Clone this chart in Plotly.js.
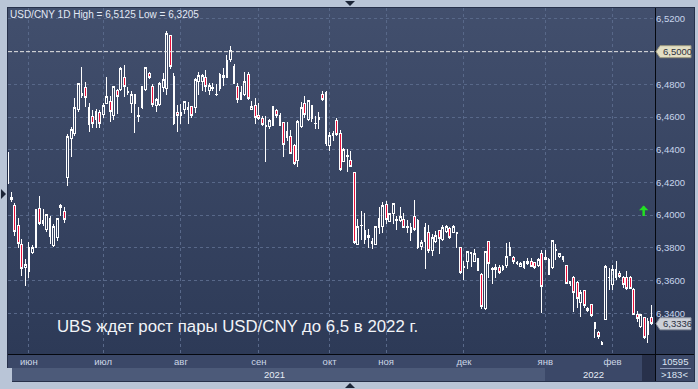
<!DOCTYPE html>
<html><head><meta charset="utf-8">
<script src="https://cdn.plot.ly/plotly-3.0.1.min.js"></script>
<style>
html,body{margin:0;padding:0;background:#b9c5d7;width:698px;height:389px;overflow:hidden;}
#wrap{position:relative;width:698px;height:389px;}
.bx{position:absolute;}
#panel{left:7px;top:7px;width:688px;height:375px;background:#26304a;}
#plotbg{left:8px;top:8px;width:647px;height:346px;background:linear-gradient(#424f6d,#2d3a57);}
#rightbg{left:656px;top:8px;width:38px;height:346px;background:linear-gradient(#424f6d,#2d3a57);}
#vline{left:655px;top:8px;width:1px;height:373px;background:#05080f;}
#hline{left:8px;top:354px;width:686px;height:1px;background:#05080f;}
#monthrow{left:8px;top:355px;width:647px;height:13px;background:#3b4868;}
#yearfill{left:7px;top:368px;width:5px;height:14px;background:#b9c5d7;}
#yearrow{left:12px;top:368px;width:533px;height:13px;background:#4c5a79;}
#yearrow2{left:545px;top:368px;width:97px;height:13px;background:#3b4868;}
#corner{left:642px;top:355px;width:13px;height:26px;background:#28314b;}
#rbox{left:656px;top:355px;width:38px;height:26px;background:#3b4868;}
#rline{left:660px;top:368px;width:31px;height:1px;background:#8c9ab8;}
.tri{position:absolute;width:0;height:0;}
#tTop{left:345px;top:1px;border-left:5px solid transparent;border-right:5px solid transparent;border-top:5px solid #1c2538;}
#tBot{left:345px;top:383px;border-left:5px solid transparent;border-right:5px solid transparent;border-bottom:5px solid #1c2538;}
#tLeft{left:1px;top:189px;border-top:5px solid transparent;border-bottom:5px solid transparent;border-left:5px solid #1c2538;}
#chart{position:absolute;left:0;top:0;width:698px;height:389px;}
#chart .boxlayer path{shape-rendering:crispEdges;}
</style></head>
<body>
<div id="wrap">
<div class="bx" id="panel"></div>
<div class="bx" id="plotbg"></div>
<div class="bx" id="rightbg"></div>
<div class="bx" id="monthrow"></div>
<div class="bx" id="yearfill"></div>
<div class="bx" id="yearrow"></div>
<div class="bx" id="yearrow2"></div>
<div class="bx" id="corner"></div>
<div class="bx" id="rbox"></div>
<div class="bx" id="rline"></div>
<div class="bx" id="vline"></div>
<div class="bx" id="hline"></div>
<div class="tri" id="tTop"></div>
<div class="tri" id="tBot"></div>
<div class="tri" id="tLeft"></div>
<div id="chart"></div>
</div>
<script>
// ---- calendar (onshore CNY trading days) ----
const startDate = '2021-05-24';
const endDate = '2022-02-22';
const holidays = ['2021-06-14','2021-09-20','2021-09-21','2021-10-01','2021-10-04','2021-10-05','2021-10-06','2021-10-07','2022-01-03','2022-01-31','2022-02-01','2022-02-02','2022-02-03','2022-02-04'];
const monthLabels = ['июн','июл','авг','сен','окт','ноя','дек','янв','фев'];
const yearLabels = ['2021','2022'];
const yTicks = [6.34,6.36,6.38,6.40,6.42,6.44,6.46,6.48,6.52];
const levelLine = 6.50;
const headline = 'UBS ждет рост пары USD/CNY до 6,5 в 2022 г.';
const volumeText = '10595';

// ---- OHLC values ----
const open = [6.4384,6.4106,6.4062,6.3939,6.3823,6.3682,6.3656,6.3772,6.3802,6.4041,6.3951,6.3910,6.3982,6.3813,6.3864,6.4049,6.4021,6.4231,6.4472,6.4502,6.4645,6.4731,6.4780,6.4657,6.4604,6.4584,6.4629,6.4616,6.4686,6.4694,6.4608,6.4761,6.4767,6.4841,6.4751,6.4686,6.4737,6.4604,6.4657,6.4767,6.4865,6.4786,6.4669,6.4678,6.4782,6.4776,6.5096,6.4847,6.4631,6.4612,6.4649,6.4649,6.4667,6.4659,6.4816,6.4818,6.4843,6.4761,6.4774,6.4737,6.4776,6.4853,6.4839,6.4955,6.4910,6.4786,6.4710,6.4741,6.4863,6.4649,6.4669,6.4608,6.4592,6.4549,6.4541,6.4551,6.4639,6.4612,6.4567,6.4476,6.4480,6.4429,6.4337,6.4541,6.4686,6.4584,6.4669,6.4563,6.4584,6.4741,6.4752,6.4429,6.4502,6.4578,6.4502,6.4329,6.4358,6.4337,6.4258,6.3821,6.3935,6.3908,6.3876,6.3825,6.3821,6.3977,6.3933,6.4065,6.3963,6.4008,6.3971,6.3965,6.3973,6.3928,6.3922,6.3989,6.3967,6.3806,6.3841,6.3892,6.3784,6.3837,6.3908,6.3851,6.3898,6.3916,6.3892,6.3892,6.3800,6.3682,6.3715,6.3768,6.3719,6.3735,6.3637,6.3430,6.3837,6.3666,6.3669,6.3681,6.3667,6.3693,6.3800,6.3739,6.3702,6.3687,6.3718,6.3702,6.3714,6.3708,6.3693,6.3763,6.3739,6.3732,6.3677,6.3782,6.3745,6.3728,6.3691,6.3585,6.3616,6.3591,6.3468,6.3538,6.3415,6.3452,6.3345,6.3283,6.3209,6.3363,6.3616,6.3575,6.3620,6.3646,6.3616,6.3616,6.3616,6.3544,6.3394,6.3318,6.3374,6.3271,6.3375];
const high = [6.4395,6.4143,6.4072,6.3980,6.3853,6.3731,6.3833,6.3815,6.4040,6.4119,6.4040,6.4010,6.3992,6.3945,6.3982,6.4068,6.4047,6.4496,6.4537,6.4714,6.4808,6.4906,6.4816,6.4686,6.4645,6.4650,6.4645,6.4686,6.4847,6.4731,6.4790,6.4772,6.4908,6.4918,6.4782,6.4761,6.4741,6.4659,6.4792,6.4908,6.4873,6.4802,6.4714,6.4816,6.4869,6.5125,6.5098,6.4871,6.4676,6.4678,6.4698,6.4690,6.4669,6.4839,6.4873,6.4863,6.4888,6.4808,6.4808,6.4800,6.4867,6.4900,6.4980,6.5037,6.4924,6.4808,6.4792,6.4878,6.4873,6.4700,6.4714,6.4686,6.4608,6.4608,6.4588,6.4669,6.4649,6.4624,6.4571,6.4571,6.4522,6.4435,6.4580,6.4690,6.4727,6.4706,6.4673,6.4608,6.4633,6.4760,6.4758,6.4510,6.4516,6.4594,6.4519,6.4411,6.4405,6.4394,6.4264,6.3979,6.4028,6.4014,6.3918,6.3859,6.3933,6.4049,6.4081,6.4085,6.4014,6.4071,6.3992,6.4049,6.4014,6.3973,6.3953,6.4095,6.3977,6.3847,6.3953,6.3939,6.3886,6.3902,6.3912,6.3939,6.3939,6.3926,6.3939,6.3896,6.3804,6.3718,6.3780,6.3776,6.3794,6.3739,6.3646,6.3780,6.3841,6.3686,6.3702,6.3693,6.3698,6.3831,6.3835,6.3749,6.3718,6.3714,6.3722,6.3739,6.3739,6.3714,6.3739,6.3790,6.3784,6.3739,6.3851,6.3821,6.3769,6.3753,6.3693,6.3599,6.3626,6.3595,6.3544,6.3544,6.3441,6.3456,6.3349,6.3292,6.3230,6.3693,6.3677,6.3693,6.3722,6.3657,6.3626,6.3657,6.3626,6.3554,6.3411,6.3394,6.3380,6.3370,6.3448];
const low = [6.4190,6.4082,6.3874,6.3802,6.3625,6.3564,6.3615,6.3762,6.3798,6.3939,6.3935,6.3900,6.3823,6.3807,6.3843,6.3992,6.3955,6.4176,6.4357,6.4482,6.4633,6.4714,6.4659,6.4506,6.4535,6.4535,6.4531,6.4596,6.4678,6.4572,6.4580,6.4619,6.4761,6.4723,6.4735,6.4625,6.4502,6.4568,6.4649,6.4761,6.4833,6.4659,6.4629,6.4669,6.4751,6.4735,6.4895,6.4550,6.4506,6.4560,6.4620,6.4555,6.4592,6.4622,6.4735,6.4761,6.4755,6.4735,6.4761,6.4730,6.4759,6.4788,6.4839,6.4935,6.4802,6.4686,6.4706,6.4731,6.4706,6.4645,6.4555,6.4584,6.4543,6.4323,6.4527,6.4547,6.4596,6.4547,6.4357,6.4455,6.4376,6.4306,6.4294,6.4535,6.4596,6.4578,6.4572,6.4527,6.4527,6.4700,6.4425,6.4394,6.4455,6.4482,6.4268,6.4323,6.4262,6.4293,6.3821,6.3817,6.3851,6.3825,6.3800,6.3794,6.3821,6.3887,6.3888,6.3947,6.3959,6.3947,6.3910,6.3959,6.3922,6.3890,6.3841,6.3902,6.3796,6.3790,6.3672,6.3770,6.3749,6.3830,6.3764,6.3845,6.3892,6.3857,6.3888,6.3800,6.3642,6.3603,6.3672,6.3684,6.3713,6.3658,6.3425,6.3420,6.3617,6.3580,6.3616,6.3640,6.3657,6.3677,6.3749,6.3702,6.3694,6.3681,6.3673,6.3693,6.3681,6.3673,6.3681,6.3404,6.3726,6.3636,6.3671,6.3728,6.3739,6.3714,6.3579,6.3564,6.3406,6.3431,6.3380,6.3435,6.3406,6.3380,6.3246,6.3242,6.3205,6.3359,6.3544,6.3544,6.3605,6.3616,6.3554,6.3544,6.3546,6.3390,6.3349,6.3308,6.3242,6.3216,6.3330];
const close = [6.4195,6.4094,6.3900,6.3829,6.3676,6.3696,6.3805,6.3802,6.4033,6.3947,6.3968,6.4002,6.3868,6.3929,6.3982,6.4059,6.3976,6.4480,6.4527,6.4661,6.4808,6.4743,6.4718,6.4555,6.4563,6.4633,6.4563,6.4670,6.4727,6.4637,6.4786,6.4723,6.4900,6.4784,6.4755,6.4735,6.4682,6.4612,6.4786,6.4902,6.4845,6.4674,6.4706,6.4808,6.4829,6.5110,6.4908,6.4562,6.4608,6.4625,6.4698,6.4659,6.4612,6.4829,6.4857,6.4853,6.4788,6.4792,6.4778,6.4741,6.4859,6.4843,6.4943,6.5010,6.4808,6.4710,6.4751,6.4816,6.4714,6.4663,6.4600,6.4592,6.4555,6.4545,6.4576,6.4663,6.4612,6.4551,6.4435,6.4514,6.4380,6.4319,6.4571,6.4659,6.4618,6.4700,6.4592,6.4559,6.4598,6.4706,6.4440,6.4486,6.4486,6.4492,6.4278,6.4401,6.4362,6.4299,6.3831,6.3933,6.3939,6.3851,6.3861,6.3837,6.3928,6.3922,6.4059,6.3973,6.4008,6.4071,6.3967,6.3992,6.3926,6.3922,6.3892,6.3912,6.3800,6.3831,6.3926,6.3784,6.3861,6.3876,6.3857,6.3926,6.3928,6.3861,6.3933,6.3888,6.3648,6.3688,6.3776,6.3772,6.3766,6.3664,6.3440,6.3777,6.3703,6.3674,6.3683,6.3652,6.3687,6.3749,6.3753,6.3718,6.3708,6.3702,6.3677,6.3718,6.3687,6.3677,6.3732,6.3564,6.3728,6.3640,6.3845,6.3790,6.3763,6.3745,6.3585,6.3595,6.3529,6.3488,6.3529,6.3447,6.3427,6.3386,6.3308,6.3257,6.3222,6.3687,6.3620,6.3667,6.3667,6.3626,6.3575,6.3550,6.3554,6.3394,6.3370,6.3390,6.3251,6.3349,6.3336];

// build trading-day categories
function tradingDays(){
  const out = [];
  const d = new Date(startDate + 'T00:00:00Z');
  const e = new Date(endDate + 'T00:00:00Z');
  while (d <= e) {
    const wd = d.getUTCDay();
    const s = d.toISOString().slice(0,10);
    if (wd !== 0 && wd !== 6 && holidays.indexOf(s) < 0) out.push(s);
    d.setUTCDate(d.getUTCDate() + 1);
  }
  return out;
}
const dates = tradingDays();
// first trading day of each month (from June)
const monthStarts = [];
let lastMonth = dates[0].slice(0,7);
dates.forEach(function(s){ const m = s.slice(0,7); if (m !== lastMonth) { monthStarts.push(s); lastMonth = m; } });
const janIdx = dates.indexOf(monthStarts[7]);

const fmt = v => v.toFixed(4).replace('.', ',');
const hi = Math.max.apply(null, high), lo = Math.min.apply(null, low);
const lastClose = close[close.length - 1];

const FONT = 'Liberation Sans, Arial, sans-serif';
const xRange = [0.1, dates.length];

const trace = {
  type: 'candlestick', x: dates, open: open, high: high, low: low, close: close,
  increasing: {line: {color: '#ffffff', width: 1}, fillcolor: 'rgba(0,0,0,0)'},
  decreasing: {line: {color: '#ffffff', width: 1}, fillcolor: '#e8103a'},
  whiskerwidth: 0, hoverinfo: 'skip', showlegend: false
};

const layout = {
  width: 698, height: 389,
  margin: {l: 8, r: 43, t: 8, b: 35, pad: 0},
  paper_bgcolor: 'rgba(0,0,0,0)', plot_bgcolor: 'rgba(0,0,0,0)',
  separators: ', ',
  boxgap: 0.3,
  showlegend: false,
  font: {family: FONT},
  title: {text: 'USD/CNY 1D High = ' + fmt(hi) + ' Low = ' + fmt(lo),
          x: 10/698, xanchor: 'left', y: 1 - 14.5/389, yanchor: 'middle',
          font: {family: FONT, size: 10, color: '#e2e9f5'}},
  xaxis: {type: 'category', range: xRange, rangeslider: {visible: false},
          tickvals: monthStarts, ticktext: monthLabels,
          showgrid: true, gridcolor: '#586889', griddash: '3px,3px', gridwidth: 1,
          ticks: '', showline: false, zeroline: false, fixedrange: true,
          tickfont: {family: FONT, size: 9.5, color: '#ccd6e6'}},
  yaxis: {side: 'right', range: [6.3151, 6.5267], tickvals: yTicks, tickformat: '.4f',
          showgrid: true, gridcolor: '#586889', griddash: '3px,3px', gridwidth: 1,
          ticks: '', showline: false, zeroline: false, fixedrange: true,
          tickfont: {family: FONT, size: 9.5, color: '#c8d5ec'}},
  shapes: [
    {type: 'line', xref: 'paper', x0: 0, x1: 1, yref: 'y', y0: levelLine, y1: levelLine,
     line: {color: '#e6e6e6', width: 1, dash: '4px,2px'}},
    {type: 'path', xref: 'paper', yref: 'y', xsizemode: 'pixel', ysizemode: 'pixel',
     xanchor: 1, yanchor: levelLine, path: 'M 1 0 L 5 6 L 36 6 L 36 -6 L 5 -6 Z',
     fillcolor: '#e3dfc4', line: {color: '#9c987e', width: 1}},
    {type: 'path', xref: 'paper', yref: 'y', xsizemode: 'pixel', ysizemode: 'pixel',
     xanchor: 1, yanchor: lastClose, path: 'M 1 0 L 5 6 L 36 6 L 36 -6 L 5 -6 Z',
     fillcolor: '#ccd0d8', line: {color: '#8e94a0', width: 1}}
  ],
  annotations: [
    {xref: 'paper', x: 1, xanchor: 'left', xshift: 6, yref: 'y', y: levelLine, yanchor: 'middle',
     text: fmt(levelLine), showarrow: false, font: {family: FONT, size: 9.5, color: '#2b3040'}},
    {xref: 'paper', x: 1, xanchor: 'left', xshift: 6, yref: 'y', y: lastClose, yanchor: 'middle',
     text: fmt(lastClose), showarrow: false, font: {family: FONT, size: 9.5, color: '#2b3040'}},
    {xref: 'paper', x: 0.9825, yref: 'y', y: 6.4059, ax: 0, ay: 12, text: '',
     showarrow: true, arrowhead: 1, arrowsize: 0.62, arrowwidth: 2.5, arrowcolor: '#22e022'},
    {xref: 'paper', x: 0.3547, yref: 'paper', y: 0.0809, xanchor: 'center', yanchor: 'middle',
     text: headline, showarrow: false, font: {family: FONT, size: 16.8, color: '#f2f4f8'}},
    {xref: 'x', x: (xRange[0] + janIdx) / 2 - 0.5, yref: 'paper', y: 0, yshift: -20.5, yanchor: 'middle',
     text: yearLabels[0], showarrow: false, font: {family: FONT, size: 9.5, color: '#e6ecf6'}},
    {xref: 'x', x: (janIdx + xRange[1]) / 2 - 2, yref: 'paper', y: 0, yshift: -20.5, yanchor: 'middle',
     text: yearLabels[1], showarrow: false, font: {family: FONT, size: 9.5, color: '#e6ecf6'}},
    {xref: 'paper', x: 1, xshift: 19.5, xanchor: 'center', yref: 'paper', y: 0, yshift: -7.5, yanchor: 'middle',
     text: volumeText, showarrow: false, font: {family: FONT, size: 9.5, color: '#dce4f2'}},
    {xref: 'paper', x: 1, xshift: 19.5, xanchor: 'center', yref: 'paper', y: 0, yshift: -20, yanchor: 'middle',
     text: '&gt;' + dates.length + '&lt;', showarrow: false, font: {family: FONT, size: 9.5, color: '#dce4f2'}}
  ]
};

Plotly.newPlot('chart', [trace], layout, {staticPlot: true, displayModeBar: false});
</script>
</body></html>
